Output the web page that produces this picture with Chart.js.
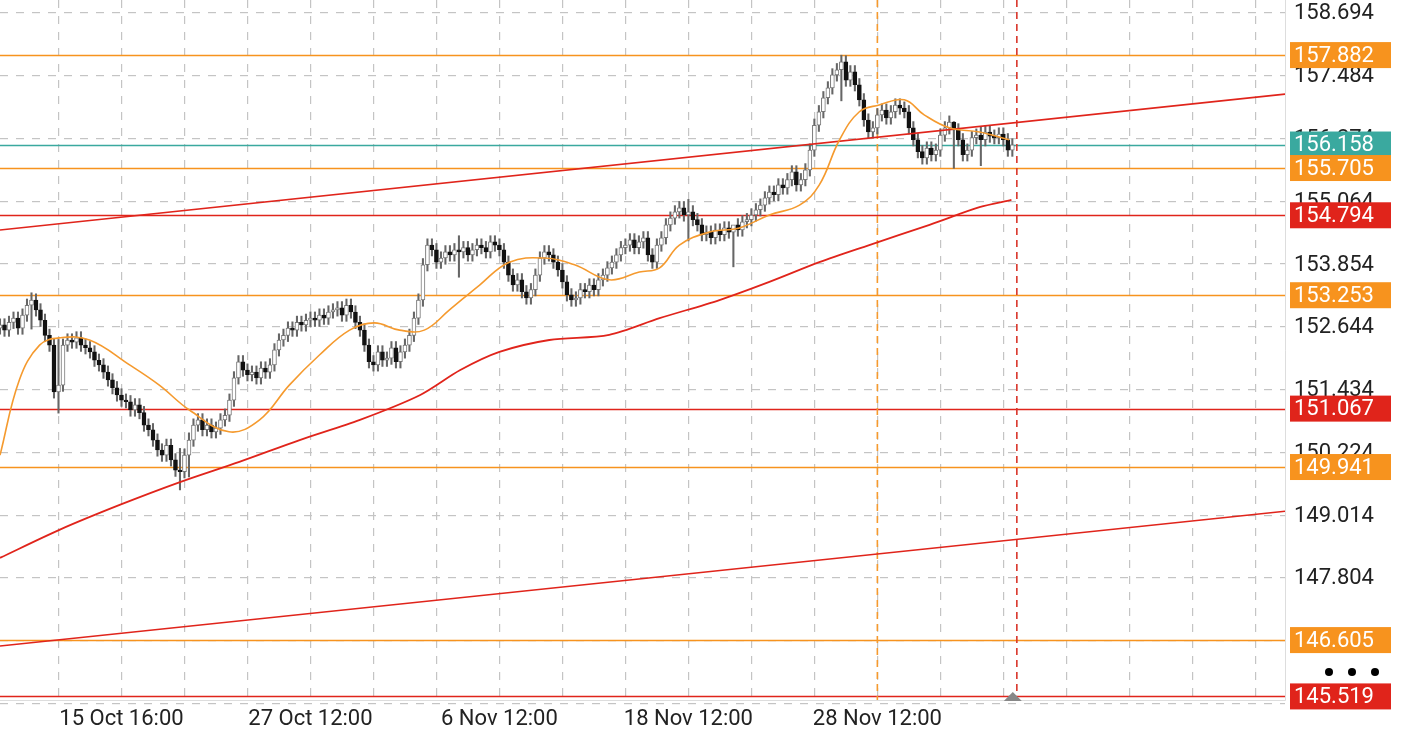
<!DOCTYPE html>
<html>
<head>
<meta charset="utf-8">
<script src="https://cdn.jsdelivr.net/npm/chart.js@4.4.1/dist/chart.umd.min.js"></script>
<style>
  html, body { margin: 0; padding: 0; background: #fff; }
  #wrap { width: 1410px; height: 738px; }
</style>
</head>
<body>
<div id="wrap"><canvas id="chart" width="1410" height="738"></canvas></div>
<script>
// candle closes, one per bar, first bar index -13
const firstIndex = -13;
const firstOpen = 152.62;
const closes = [
  152.68,152.58,152.73,152.81,152.62,152.87,153.06,153.16,152.97,152.77,
  152.48,152.29,151.39,151.52,152.29,152.39,152.35,152.43,152.29,152.24,
  152.16,152.00,151.91,151.77,151.62,151.47,151.33,151.23,151.20,151.04,
  151.14,150.99,150.75,150.66,150.46,150.27,150.17,150.36,150.08,149.88,
  149.85,150.17,150.46,150.75,150.85,150.66,150.75,150.62,150.69,150.85,
  150.94,151.23,151.66,151.97,151.81,151.72,151.77,151.66,151.85,151.77,
  151.91,152.20,152.39,152.48,152.62,152.58,152.73,152.68,152.77,152.81,
  152.77,152.87,152.81,152.93,152.97,153.01,152.87,153.06,152.93,152.73,
  152.58,152.29,151.97,151.91,152.16,152.00,152.04,152.24,151.97,152.16,
  152.29,152.48,152.81,153.16,153.84,154.22,154.13,153.89,153.97,154.09,
  154.03,154.13,154.09,154.17,154.03,154.13,154.22,154.17,154.09,154.28,
  154.22,154.13,153.89,153.64,153.45,153.55,153.32,153.20,153.36,153.64,
  153.97,154.09,154.03,153.89,153.74,153.51,153.26,153.16,153.20,153.36,
  153.32,153.45,153.36,153.55,153.64,153.78,153.89,154.03,154.17,154.22,
  154.32,154.17,154.28,154.36,154.03,153.89,154.22,154.36,154.61,154.74,
  154.86,154.94,154.80,154.86,154.71,154.61,154.42,154.47,154.36,154.51,
  154.42,154.55,154.47,154.61,154.51,154.67,154.71,154.80,154.90,154.99,
  155.13,155.24,155.19,155.38,155.32,155.48,155.63,155.38,155.48,155.67,
  156.05,156.53,156.79,157.06,157.25,157.50,157.60,157.75,157.40,157.56,
  157.31,157.02,156.63,156.40,156.48,156.73,156.82,156.67,156.79,156.92,
  156.86,156.79,156.48,156.25,156.02,155.90,156.09,155.96,156.05,156.34,
  156.48,156.59,156.44,156.25,155.96,156.05,156.29,156.34,156.25,156.40,
  156.32,156.29,156.36,156.25,156.05,156.15
];
// notable wick extremes [index, high, low]
const wickSpikes = [
  [-6, 153.30, 152.60], [0, 152.40, 150.98], [27, 150.30, 149.50],
  [29, 150.60, 149.75], [89, 154.40, 153.60], [140, 155.10, 154.30],
  [150, 154.60, 153.80], [174, 157.88, 157.00], [199, 156.60, 155.70],
  [205, 156.50, 155.75]
];
const defaultWick = 0.12;

// moving averages [index, price]
const fastMA = [
  [-13,150.17],[-8.7,151.62],[-4.2,152.29],[0.2,152.43],[6.9,152.39],[15.8,151.91],
  [22.4,151.52],[29.1,151.04],[37.9,150.62],[44.7,150.85],[51.3,151.52],[58,152.10],
  [64.7,152.58],[70.2,152.72],[75.8,152.58],[81.3,152.58],[86.9,152.97],[93.6,153.45],
  [100.2,153.89],[108,153.97],[114.7,153.84],[122.4,153.55],[129.1,153.70],[133.6,153.78],
  [138,154.22],[144.7,154.47],[151.3,154.55],[158,154.80],[164.7,154.99],[169.1,155.38],
  [173.6,156.25],[178,156.79],[182.4,156.92],[188,157.02],[192.4,156.73],[198,156.48],
  [204.7,156.40],[211.3,156.25]
];
const slowMA = [
  [-13,148.19],[0.2,148.73],[13.6,149.21],[27,149.65],[40.2,150.04],[53.6,150.46],
  [67,150.85],[80.4,151.33],[89.3,151.81],[98,152.16],[109.1,152.39],[122.4,152.49],
  [133.6,152.81],[146.9,153.16],[158,153.51],[169.1,153.89],[180.2,154.22],[193.6,154.61],
  [204.7,154.95],[211.8,155.09]
];
const upperTrend = [[-13,154.51],[272.6,157.13]];
const lowerTrend = [[-13,146.49],[272.6,149.09]];

// horizontal levels
const levelValues = [157.882, 156.158, 155.705, 154.794, 153.253, 151.067, 149.941, 146.605, 145.519];
const levelKinds  = ['o', 't', 'o', 'r', 'o', 'r', 'o', 'o', 'r'];

const priceTicks = [158.694, 157.484, 156.274, 155.064, 153.854, 152.644, 151.434, 150.224, 149.014, 147.804, 146.594, 145.384];
const timeTicks = [0, 14, 28, 42, 56, 70, 84, 98, 112, 126, 140, 154, 168, 182, 196, 210, 224, 238, 252, 266];
const timeLabels = { 14: '15 Oct 16:00', 56: '27 Oct 12:00', 98: '6 Nov 12:00', 140: '18 Nov 12:00', 182: '28 Nov 12:00' };
const markerIndex = 182;
const lastIndex = 213;

const COLORS = { o: '#f7931e', r: '#e0241b', t: '#3aa99f' };

const bodies = [], wicks = [], bodyFill = [], bodyBorder = [];
let prev = firstOpen;
closes.forEach((c, i) => {
  const x = firstIndex + i;
  const o = prev;
  let hi = Math.max(o, c) + defaultWick, lo = Math.min(o, c) - defaultWick;
  const s = wickSpikes.find(w => w[0] === x);
  if (s) { hi = s[1]; lo = s[2]; }
  const lo2 = Math.min(o, c), hi2 = Math.max(o, c);
  bodies.push({ x, y: [lo2, hi2 - lo2 < 0.02 ? lo2 + 0.02 : hi2] });
  wicks.push({ x, y: [lo, hi] });
  const up = c >= o;
  bodyFill.push(up ? '#ffffff' : '#111111');
  bodyBorder.push(up ? '#777777' : '#111111');
  prev = c;
});

const pts = arr => arr.map(p => ({ x: p[0], y: p[1] }));

const overlayPlugin = {
  id: 'overlay',
  beforeDatasetsDraw(chart) {
    const { ctx, chartArea: a, scales: { x, y } } = chart;
    ctx.save();
    levelValues.forEach((v, i) => {
      const py = Math.round(y.getPixelForValue(v)) + 0.5;
      ctx.strokeStyle = COLORS[levelKinds[i]];
      ctx.lineWidth = 1.6;
      ctx.beginPath(); ctx.moveTo(a.left, py); ctx.lineTo(a.right, py); ctx.stroke();
    });
    ctx.setLineDash([7, 5]);
    ctx.lineWidth = 1.6;
    ctx.strokeStyle = '#f59a2e';
    let px = x.getPixelForValue(markerIndex);
    ctx.beginPath(); ctx.moveTo(px, a.top); ctx.lineTo(px, a.bottom); ctx.stroke();
    ctx.strokeStyle = '#d9352b';
    px = x.getPixelForValue(lastIndex);
    ctx.beginPath(); ctx.moveTo(px, a.top); ctx.lineTo(px, a.bottom); ctx.stroke();
    ctx.restore();
  },
  afterDraw(chart) {
    const { ctx, chartArea: a, scales: { x, y } } = chart;
    ctx.save();
    ctx.strokeStyle = '#dddddd';
    ctx.lineWidth = 1;
    ctx.beginPath(); ctx.moveTo(a.right + 0.5, a.top); ctx.lineTo(a.right + 0.5, a.bottom + 0.5);
    ctx.lineTo(a.left, a.bottom + 0.5); ctx.stroke();
    ctx.font = '22px Roboto';
    ctx.textBaseline = 'middle';
    ctx.fillStyle = '#222';
    priceTicks.forEach(v => {
      const py = y.getPixelForValue(v);
      if (py > a.bottom) return;
      ctx.fillText(v.toFixed(3), a.right + 9, py + 1);
    });
    levelValues.forEach((v, i) => {
      const py = y.getPixelForValue(v);
      ctx.fillStyle = COLORS[levelKinds[i]];
      ctx.fillRect(a.right + 5, py - 13, 101, 26);
      ctx.fillStyle = '#ffffff';
      ctx.fillText(v.toFixed(3), a.right + 9, py + 1);
    });
    ctx.fillStyle = '#000';
    [1329, 1352, 1375].forEach(cx => {
      ctx.beginPath(); ctx.arc(cx, 672, 4, 0, Math.PI * 2); ctx.fill();
    });
    const tx = x.getPixelForValue(lastIndex) - 4;
    ctx.fillStyle = '#888';
    ctx.beginPath(); ctx.moveTo(tx - 9, a.bottom + 1); ctx.lineTo(tx, a.bottom - 8); ctx.lineTo(tx + 9, a.bottom + 1); ctx.fill();
    ctx.restore();
  }
};

const lineDs = (data, color, width, tension) => ({
  type: 'line', data: pts(data), borderColor: color, borderWidth: width,
  pointRadius: 0, tension, fill: false, order: 0
});

new Chart(document.getElementById('chart'), {
  type: 'bar',
  data: {
    datasets: [
      { data: wicks, backgroundColor: '#666', barThickness: 1.4, grouped: false, order: 3 },
      { data: bodies, backgroundColor: bodyFill, borderColor: bodyBorder, borderWidth: 1,
        borderSkipped: false, barThickness: 4, grouped: false, order: 2 },
      lineDs(fastMA, '#f59a2e', 1.6, 0.4),
      lineDs(slowMA, '#e0241b', 1.8, 0.3),
      lineDs(upperTrend, '#e0241b', 1.6, 0),
      lineDs(lowerTrend, '#e0241b', 1.6, 0)
    ]
  },
  options: {
    responsive: false,
    animation: false,
    layout: { padding: 0 },
    plugins: { legend: { display: false }, tooltip: { enabled: false } },
    scales: {
      x: {
        type: 'linear', min: -13, max: 272.6, offset: false,
        afterBuildTicks: s => { s.ticks = timeTicks.map(v => ({ value: v })); },
        afterFit: s => { s.height = 38; },
        grid: { color: '#c4c4c4', lineWidth: 1.2, drawTicks: false, offset: false },
        border: { display: false, dash: [8, 8] },
        ticks: { autoSkip: false, maxRotation: 0, padding: 6, color: '#222',
                 font: { family: 'Roboto', size: 22 },
                 callback: v => timeLabels[v] || '' }
      },
      y: {
        position: 'right', min: 145.45, max: 158.944,
        afterBuildTicks: s => { s.ticks = priceTicks.map(v => ({ value: v })); },
        afterFit: s => { s.width = 125; },
        grid: { color: '#c4c4c4', lineWidth: 1.2, drawTicks: false },
        border: { display: false, dash: [8, 8] },
        ticks: { display: false }
      }
    }
  },
  plugins: [overlayPlugin]
});
</script>
</body>
</html>
